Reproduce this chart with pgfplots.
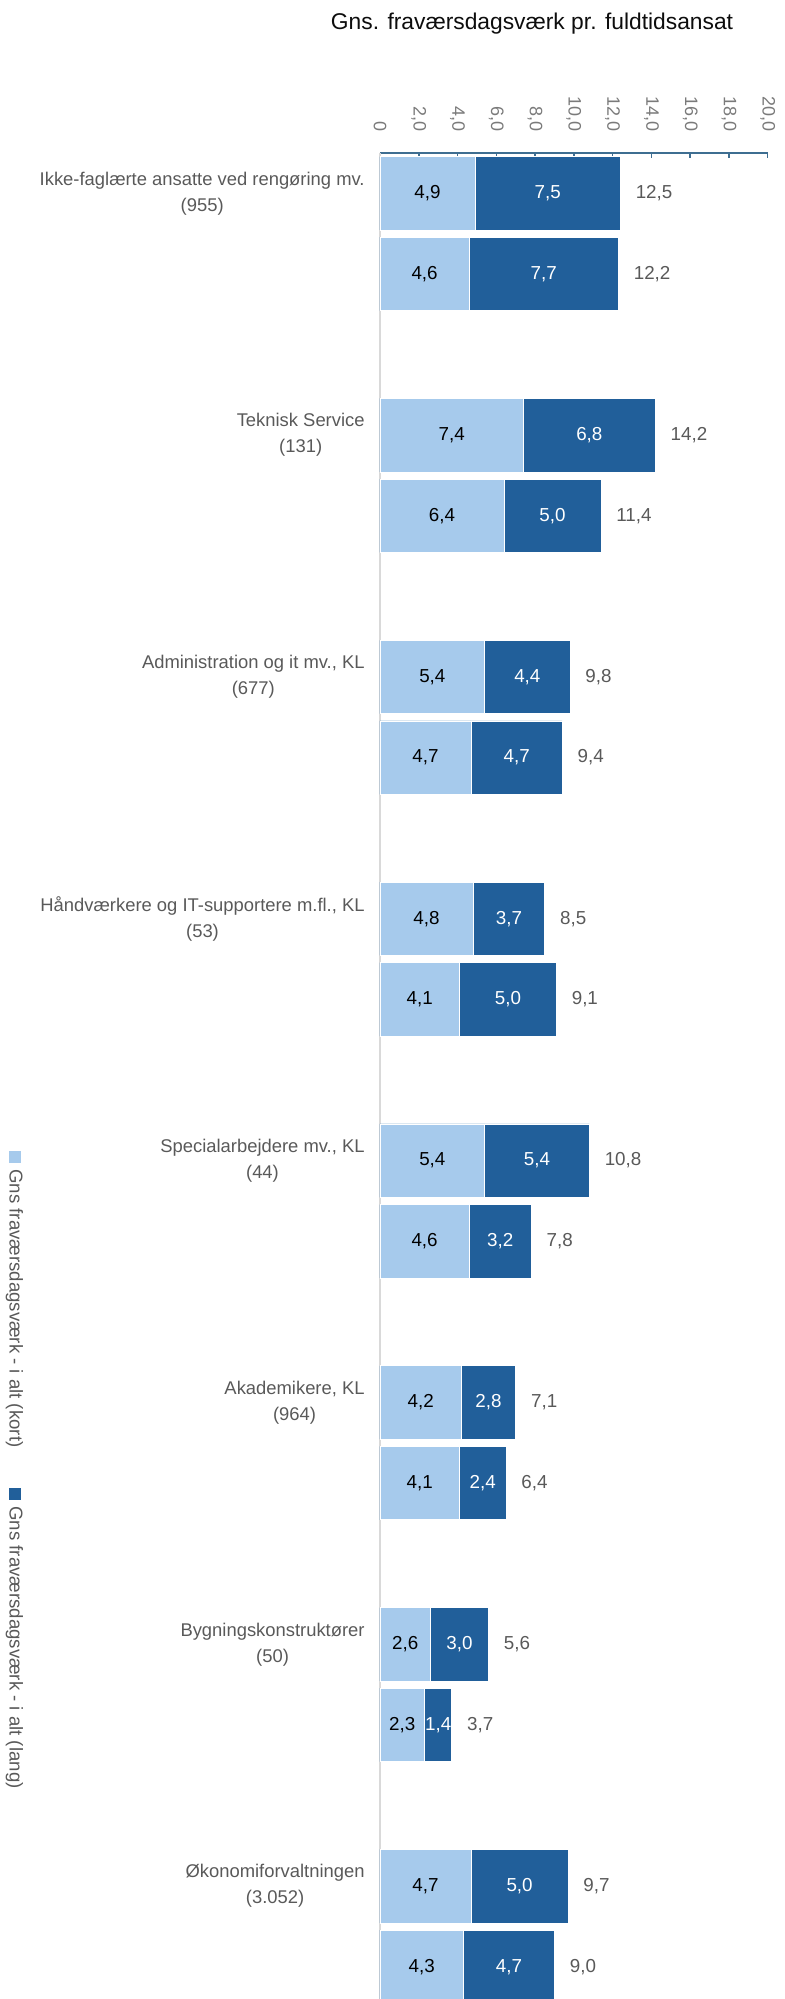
\documentclass[border=0pt]{standalone}
\usepackage{pgfplots}
\pgfplotsset{compat=1.18}
\usepackage{pgfplotstable}
\usepackage{fontspec}
\setmainfont{Liberation Sans}

\definecolor{lightb}{RGB}{166,202,236}
\definecolor{darkb}{RGB}{33,95,154}
\definecolor{axisc}{RGB}{62,110,145}
\definecolor{ylinec}{RGB}{217,217,217}
\definecolor{tickc}{RGB}{122,122,122}
\definecolor{labc}{RGB}{89,89,89}

% pos = slot from the top, kort / lang = the two parts, tot = shown total
\pgfplotstableread{
pos kort lang tot
0  4.9 7.5 12.5
1  4.6 7.7 12.2
3  7.4 6.8 14.2
4  6.4 5.0 11.4
6  5.4 4.4 9.8
7  4.7 4.7 9.4
9  4.8 3.7 8.5
10 4.1 5.0 9.1
12 5.4 5.4 10.8
13 4.6 3.2 7.8
15 4.2 2.8 7.1
16 4.1 2.4 6.4
18 2.6 3.0 5.6
19 2.3 1.4 3.7
21 4.7 5.0 9.7
22 4.3 4.7 9.0
}\data

\newcommand{\valfont}{\fontsize{9.4}{11}\selectfont}
\newcommand{\pnum}{\pgfmathprintnumber[use comma,fixed,fixed zerofill,precision=1,assume math mode=true]{\pgfplotspointmeta}}

\begin{document}
\begin{tikzpicture}
\begin{axis}[
  at={(190pt,0pt)}, anchor=south west,
  scale only axis, width=193.85pt, height=923pt,
  xmin=0, xmax=20, ymin=-22.4, ymax=0.5,
  axis x line*=top, axis y line*=left,
  x axis line style={draw=axisc, line width=0.75pt, -},
  y axis line style={draw=ylinec, line width=0.75pt, -},
  tick align=inside,
  xtick={0,2,...,20},
  xticklabels={0,{2,0},{4,0},{6,0},{8,0},{10,0},{12,0},{14,0},{16,0},{18,0},{20,0}},
  xtick style={draw=axisc, line width=0.75pt},
  major tick length=2.5pt,
  xticklabel style={yshift=10.5pt, rotate=-90, anchor=east, inner sep=0pt,
    text=tickc, font=\fontsize{9}{10}\selectfont},
  ytick={0,-3,-6,-9,-12,-15,-18,-21},
  yticklabels={
    {Ikke-faglærte ansatte ved rengøring mv.\\(955)},
    {Teknisk Service\\(131)},
    {Administration og it mv., KL\\(677)},
    {Håndværkere og IT-supportere m.fl., KL\\(53)},
    {Specialarbejdere mv., KL\\(44)},
    {Akademikere, KL\\(964)},
    {Bygningskonstruktører\\(50)},
    {Økonomiforvaltningen\\(3.052)}},
  ytick style={draw=none},
  yticklabel style={align=center, anchor=east, inner sep=0pt, xshift=-7.5pt,
    text=labc, font=\fontsize{9.2}{13}\selectfont},
]
\addplot[xbar, bar shift=0pt, bar width=0.91, fill=darkb, draw=white, line width=0.3pt]
  table[x expr=\thisrow{kort}+\thisrow{lang}, y expr=-\thisrow{pos}] {\data};
\addplot[xbar, bar shift=0pt, bar width=0.91, fill=lightb, draw=white, line width=0.3pt]
  table[x=kort, y expr=-\thisrow{pos}] {\data};

\addplot[draw=none, mark=none, point meta=explicit, nodes near coords={\pnum},
  nodes near coords style={anchor=center, text=black, font=\valfont}]
  table[x expr=\thisrow{kort}/2, y expr=-\thisrow{pos}, meta=kort] {\data};
\addplot[draw=none, mark=none, point meta=explicit, nodes near coords={\pnum},
  nodes near coords style={anchor=center, text=white, font=\valfont}]
  table[x expr=\thisrow{kort}+\thisrow{lang}/2, y expr=-\thisrow{pos}, meta=lang] {\data};
\addplot[draw=none, mark=none, point meta=explicit, nodes near coords={\pnum},
  nodes near coords style={anchor=west, inner sep=0pt, xshift=7.5pt, text=labc, font=\valfont}]
  table[x expr=\thisrow{kort}+\thisrow{lang}, y expr=-\thisrow{pos}, meta=tot] {\data};
\end{axis}

% title
\node[font=\fontsize{11.4}{13}\selectfont, text=black!95] at (266pt,987.5pt)
  {Gns. fraværsdagsværk pr. fuldtidsansat};

% legend, turned on its side
\fill[lightb] (4.25pt,418pt) rectangle ++(6pt,6pt);
\node[rotate=-90, anchor=west, inner sep=0pt, text=labc, font=\fontsize{9.3}{11}\selectfont]
  at (7.25pt,415pt) {Gns fraværsdagsværk - i alt (kort)};
\fill[darkb] (4.25pt,249.5pt) rectangle ++(6pt,6pt);
\node[rotate=-90, anchor=west, inner sep=0pt, text=labc, font=\fontsize{9.3}{11}\selectfont]
  at (7.25pt,246.5pt) {Gns fraværsdagsværk - i alt (lang)};

\pgfresetboundingbox
\path[use as bounding box] (0,0) rectangle (392pt,999.5pt);
\end{tikzpicture}
\end{document}
